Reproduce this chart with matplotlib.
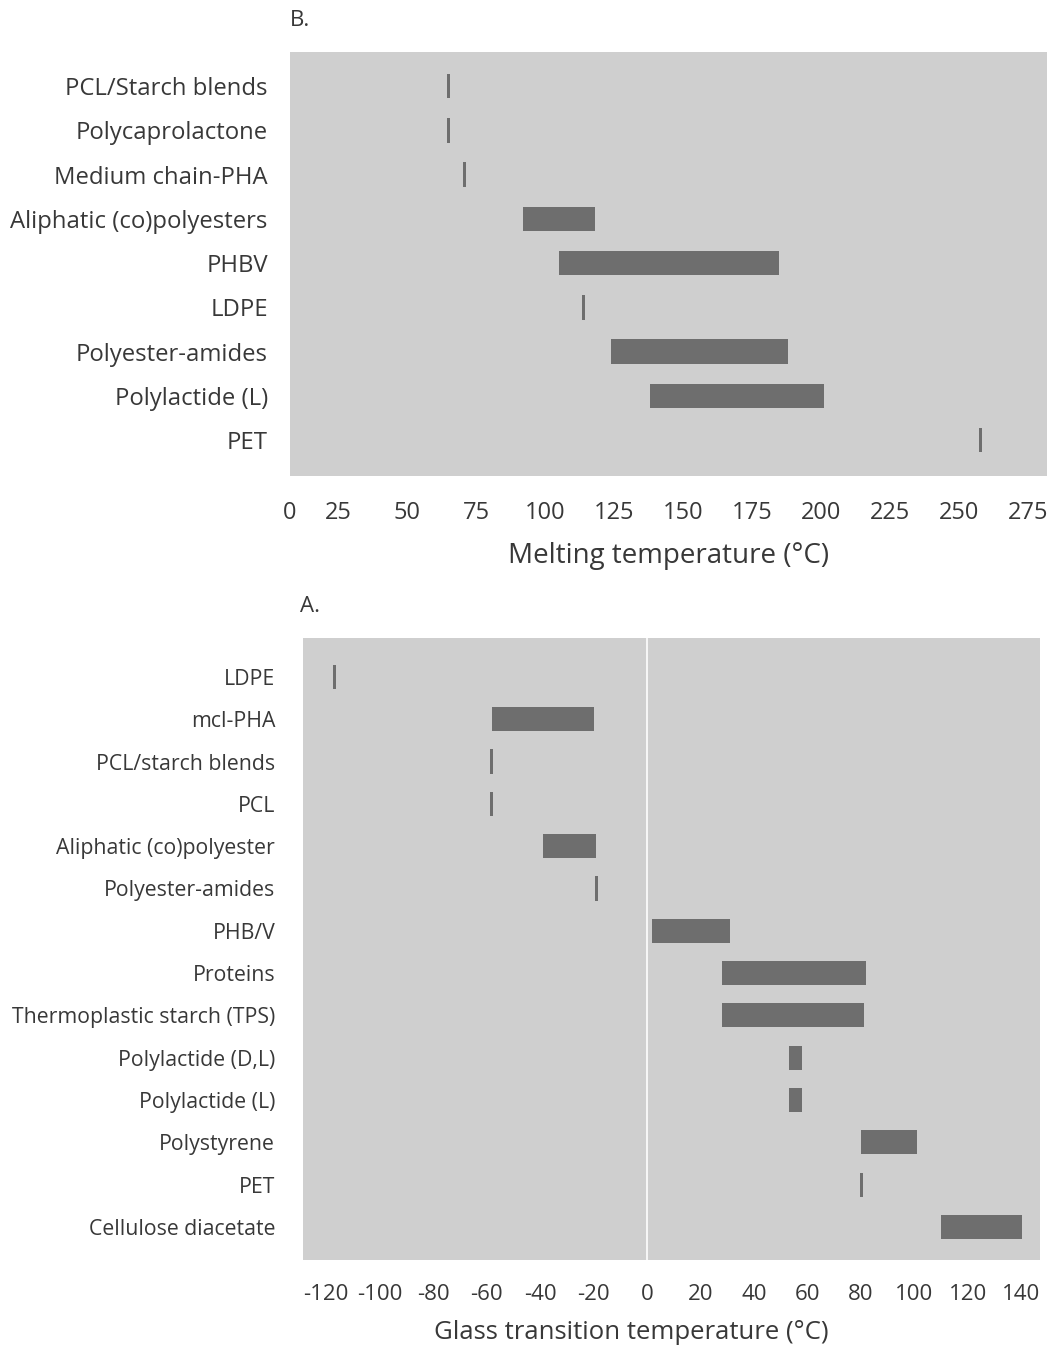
"""Melting (B) and glass transition (A) temperature ranges of polymers."""

import matplotlib

matplotlib.use("Agg")
import matplotlib.pyplot as plt

# --- panel B: melting temperature (deg C) ---
melt_names = [
    "PCL/Starch blends",
    "Polycaprolactone",
    "Medium chain-PHA",
    "Aliphatic (co)polyesters",
    "PHBV",
    "LDPE",
    "Polyester-amides",
    "Polylactide (L)",
    "PET",
]
melt_low = [65, 65, 71, 92, 105, 114, 124, 138, 258]
melt_high = [65, 65, 71, 118, 185, 114, 188, 201, 258]
melt_ticks = [0, 25, 50, 75, 100, 125, 150, 175, 200, 225, 250, 275]

# --- panel A: glass transition temperature (deg C) ---
tg_names = [
    "LDPE",
    "mcl-PHA",
    "PCL/starch blends",
    "PCL",
    "Aliphatic (co)polyester",
    "Polyester-amides",
    "PHB/V",
    "Proteins",
    "Thermoplastic starch (TPS)",
    "Polylactide (D,L)",
    "Polylactide (L)",
    "Polystyrene",
    "PET",
    "Cellulose diacetate",
]
tg_low = [-117, -58, -58, -58, -39, -19, 2, 28, 28, 53, 53, 80, 80, 110]
tg_high = [-117, -20, -58, -58, -19, -19, 31, 82, 81, 58, 58, 101, 80, 140]
tg_ticks = [-120, -100, -80, -60, -40, -20, 0, 20, 40, 60, 80, 100, 120, 140]

BG = "#cfcfcf"
BAR = "#6e6e6e"
TXT = "#383838"
MIN_W = 1.1  # single-value entries are drawn as a thin tick

plt.rcParams["font.family"] = ["Open Sans", "DejaVu Sans"]
plt.rcParams["font.size"] = 16
plt.rcParams["text.color"] = TXT
plt.rcParams["axes.labelcolor"] = TXT
plt.rcParams["xtick.color"] = TXT
plt.rcParams["ytick.color"] = TXT

fig = plt.figure(figsize=(10.56, 13.53), dpi=100)
W, H = 1056, 1353


def add_axes(x0, y0, x1, y1):
    return fig.add_axes([x0 / W, 1 - y1 / H, (x1 - x0) / W, (y1 - y0) / H])


def style(ax):
    ax.set_facecolor(BG)
    for s in ax.spines.values():
        s.set_visible(False)
    ax.tick_params(length=0)


def draw_ranges(ax, names, low, high, height, label_size):
    widths = [max(h - l, MIN_W) for l, h in zip(low, high)]
    lefts = [l if h > l else l - MIN_W / 2 for l, h in zip(low, high)]
    ax.barh(range(len(names)), widths, left=lefts, height=height,
            color=BAR, edgecolor="none")
    ax.set_yticks(range(len(names)))
    ax.set_yticklabels(names, fontsize=label_size)


# panel B
axb = add_axes(290, 52, 1047, 476)
style(axb)
draw_ranges(axb, melt_names, melt_low, melt_high, 0.55, 17.2)
b_left = 7.6
axb.set_xlim(b_left, 282)
axb.set_ylim(len(melt_names) - 1 + 0.81, -0.77)
axb.set_xticks([b_left] + melt_ticks[1:])
axb.set_xticklabels([str(t) for t in melt_ticks], fontsize=17)
axb.tick_params(axis="x", pad=18)
axb.tick_params(axis="y", pad=16)
axb.set_xlabel("Melting temperature (°C)", fontsize=20, labelpad=12)
fig.text(290 / W, 1 - 20 / H, "B.", ha="left", va="center", fontsize=16)

# panel A
axa = add_axes(303, 638, 1040, 1260)
style(axa)
axa.axvline(0, color="white", lw=1.2, zorder=0.5)
draw_ranges(axa, tg_names, tg_low, tg_high, 0.57, 15.3)
axa.set_xlim(-128.6, 146.9)
axa.set_ylim(len(tg_names) - 1 + 0.78, -0.92)
axa.set_xticks(tg_ticks)
axa.set_xticklabels([str(t) for t in tg_ticks], fontsize=16)
axa.tick_params(axis="x", pad=17)
axa.tick_params(axis="y", pad=20)
axa.set_xlabel("Glass transition temperature (°C)", fontsize=18.5,
               labelpad=11, x=0.445)
fig.text(300 / W, 1 - 607 / H, "A.", ha="left", va="center", fontsize=16)

fig.savefig("out.png", dpi=100, facecolor="white")
plt.close(fig)
